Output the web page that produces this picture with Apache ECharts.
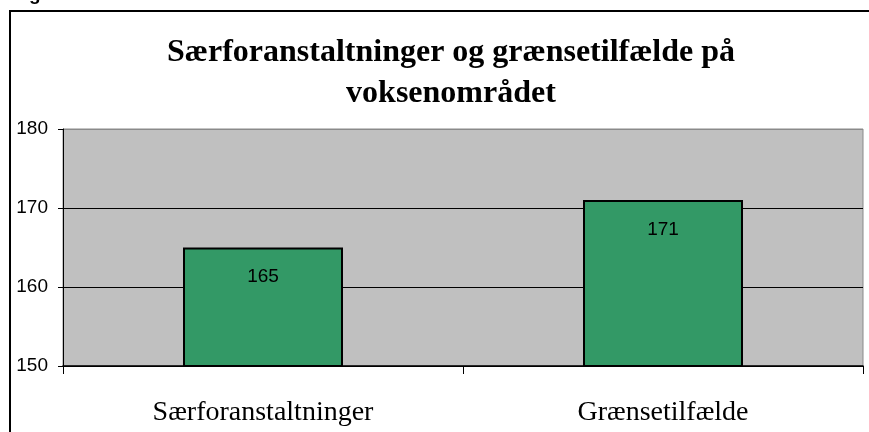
<!DOCTYPE html>
<html style="height: 100%">
    <head>
        <meta charset="utf-8">
    </head>
    <body style="height: 100%; margin: 0; background: #fff">
        <div id="container" style="width: 869px; height: 432px"></div>

        <script type="text/javascript" src="https://cdn.jsdelivr.net/npm/echarts@6/dist/echarts.min.js"></script>

        <script type="text/javascript">
var titleLines = ['Særforanstaltninger og grænsetilfælde på', 'voksenområdet'];
var categories = ['Særforanstaltninger', 'Grænsetilfælde'];
var values = [165, 171];
var yTicks = [150, 160, 170, 180];

var dom = document.getElementById("container");
var myChart = echarts.init(dom);

var option = {
    backgroundColor: '#fff',
    animation: false,
    title: {
        text: titleLines.join('\n'),
        left: 446,
        textAlign: 'center',
        top: 27,
        textStyle: {
            fontFamily: '"Liberation Serif", "Times New Roman", serif',
            fontWeight: 'bold',
            fontSize: 32,
            lineHeight: 41,
            color: '#000'
        }
    },
    graphic: [
        // frame of the figure, only left and top edges visible
        { type: 'line', shape: { x1: 10, y1: 11, x2: 869, y2: 11 }, style: { stroke: '#000', lineWidth: 2 } },
        { type: 'line', shape: { x1: 10, y1: 10, x2: 10, y2: 432 }, style: { stroke: '#000', lineWidth: 2 } },
        // cut-off letter above the frame
        { type: 'text', left: 29, top: -15, style: { text: 'g', font: 'bold 19px Arial', fill: '#000' } }
    ],
    grid: {
        left: 63,
        right: 6,
        top: 129,
        bottom: 66,
        show: true,
        backgroundColor: '#c0c0c0',
        borderColor: '#8a8a8a',
        borderWidth: 1
    },
    xAxis: {
        type: 'category',
        data: categories,
        axisLine: { lineStyle: { color: '#000', width: 1.5 } },
        axisTick: { show: true, alignWithLabel: false, length: 8, lineStyle: { color: '#000' } },
        axisLabel: {
            margin: 33,
            fontFamily: '"Liberation Serif", "Times New Roman", serif',
            fontSize: 28,
            color: '#000'
        }
    },
    yAxis: {
        type: 'value',
        min: yTicks[0],
        max: yTicks[yTicks.length - 1],
        interval: 10,
        axisLine: { show: true, lineStyle: { color: '#000' } },
        axisTick: { show: true, length: 5, lineStyle: { color: '#000' } },
        axisLabel: {
            margin: 15,
            fontFamily: 'Arial, "Liberation Sans", sans-serif',
            fontSize: 19,
            color: '#000'
        },
        splitLine: {
            show: true,
            lineStyle: { color: ['#000', '#000', '#000', '#8a8a8a'], width: 1 }
        }
    },
    series: [
        {
            type: 'bar',
            data: values,
            barWidth: '40%',
            itemStyle: {
                color: '#339966',
                borderColor: '#000',
                borderWidth: 2
            },
            label: {
                show: true,
                position: 'insideTop',
                distance: 20,
                fontFamily: 'Arial, "Liberation Sans", sans-serif',
                fontSize: 19,
                color: '#000'
            }
        }
    ]
};

myChart.setOption(option);
        </script>
    </body>
</html>
